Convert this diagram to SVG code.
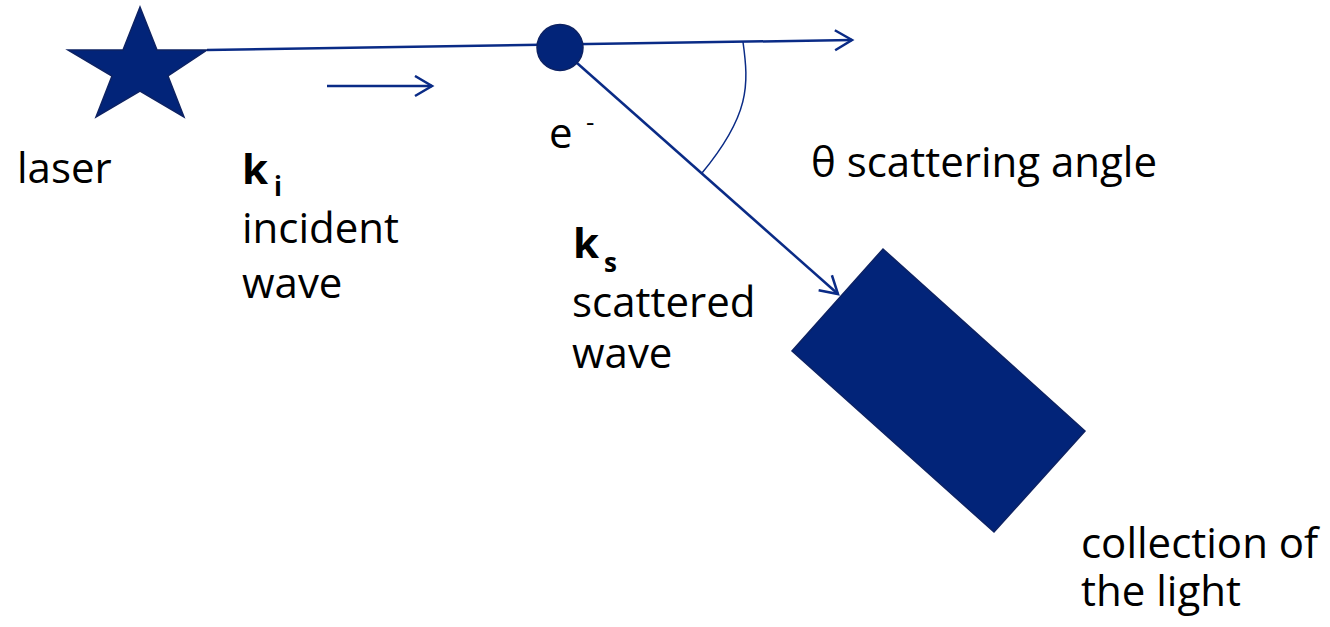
<svg xmlns="http://www.w3.org/2000/svg" width="1330" height="627" viewBox="0 0 1330 627">
<defs>
<style>
.t{font-family:"Open Sans","Liberation Sans",sans-serif;font-size:42px;fill:#000}
.b{font-weight:bold}
.sub{font-size:26px}
.ln{stroke:#0a2b86;stroke-width:2.5;fill:none}
.shape{fill:#022479;stroke:#0d2263;stroke-width:1.5}
</style>
<marker id="arr" markerUnits="userSpaceOnUse" markerWidth="24" markerHeight="24" refX="19" refY="11" orient="auto">
<path d="M2,1 L19,11 L2,21" fill="none" stroke="#0a2b86" stroke-width="2.5"/>
</marker>
</defs>
<rect width="1330" height="627" fill="#fff"/>
<g id="connectors">
<path class="ln" d="M207,50 L852,40" marker-end="url(#arr)"/>
<path class="ln" d="M577,63 L838,294" marker-end="url(#arr)"/>
<path class="ln" d="M327,86 L432,86" marker-end="url(#arr)"/>
<path d="M743,42 C749,85 750,115 702,173" fill="none" stroke="#0a2b86" stroke-width="1.5"/>
</g>
<g id="laser">
<polygon class="shape" points="140,7 157,50 207,50 168,76 184,117 140,91 96,117 112,76 68,50 123,50"/>
<text class="t" x="17" y="183">laser</text>
</g>
<g id="electron">
<circle class="shape" cx="560" cy="47.5" r="23"/>
<text class="t" x="549" y="148">e</text>
<text class="t sub" x="586" y="131">-</text>
</g>
<g id="incident">
<text class="t b" x="242" y="184">k</text>
<text class="t b sub" x="274" y="196">i</text>
<text class="t" x="242" y="243">incident</text>
<text class="t" x="242" y="298">wave</text>
</g>
<g id="scattered">
<text class="t b" x="573" y="258">k</text>
<text class="t b sub" x="604" y="272">s</text>
<text class="t" x="572" y="317">scattered</text>
<text class="t" x="572" y="368">wave</text>
</g>
<g id="angle">
<text class="t" x="811" y="177">θ scattering angle</text>
</g>
<g id="detector">
<polygon class="shape" points="883,249 1085,431 994,532 792,351"/>
<text class="t" x="1081" y="558">collection of</text>
<text class="t" x="1081" y="606">the light</text>
</g>
</svg>
